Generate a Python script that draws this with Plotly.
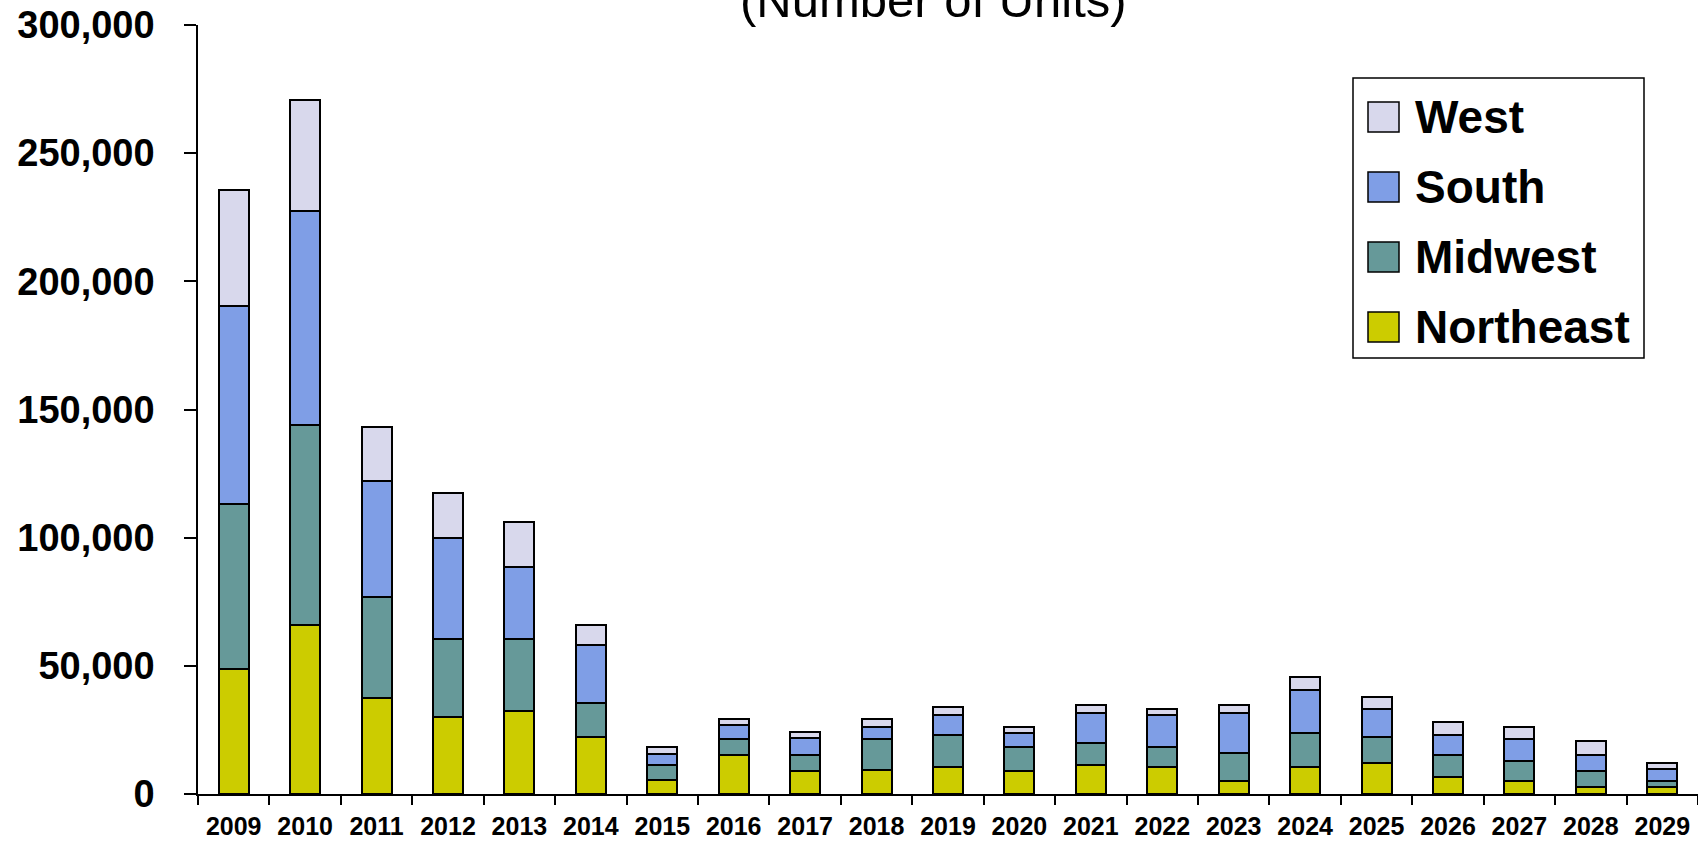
import plotly.graph_objects as go

# Units by region and year
years = [str(y) for y in range(2009, 2030)]
northeast = [48600, 65900, 37600, 30000, 32500, 22400, 5600, 15100, 8900, 9500, 10500,
             8900, 11300, 10700, 5100, 10700, 12000, 6600, 5100, 2600, 2600]
midwest = [64600, 78200, 39300, 30400, 27900, 13100, 5700, 6400, 6200, 12000, 12400,
           9600, 8600, 7800, 10900, 13100, 10300, 8600, 7800, 6400, 2500]
south = [77300, 83200, 45200, 39300, 28300, 22800, 4500, 5300, 6600, 4500, 8000,
         5300, 11600, 12500, 15500, 16600, 10900, 7800, 8700, 6200, 4500]
west = [45300, 43500, 21100, 17800, 17300, 7600, 2600, 2600, 2300, 3400, 3200,
        2500, 3300, 2300, 3300, 5400, 4700, 4900, 4700, 5600, 2600]

y_ticks = [0, 50000, 100000, 150000, 200000, 250000, 300000]
y_tick_text = ["0", "50,000", "100,000", "150,000", "200,000", "250,000", "300,000"]

series = [
    ("Northeast", northeast, "#CCCC00"),
    ("Midwest", midwest, "#669999"),
    ("South", south, "#7F9EE6"),
    ("West", west, "#D8D8EC"),
]

W, H = 1698, 843
M_L, M_R, M_T, M_B = 198, 0, 25, 49
PW, PH = W - M_L - M_R, H - M_T - M_B


def px_x(x):
    return (x - M_L) / PW


def px_y(y):
    return (H - M_B - y) / PH


FONT = "Liberation Sans, Arial, sans-serif"

fig = go.Figure()
for name, vals, color in series:
    fig.add_trace(go.Bar(
        x=years, y=vals, name=name,
        marker=dict(color=color, line=dict(color="black", width=2)),
        showlegend=False,
    ))

fig.update_layout(
    width=W, height=H,
    margin=dict(l=M_L, r=M_R, t=M_T, b=M_B, pad=0),
    barmode="stack", bargap=0.58,
    plot_bgcolor="white", paper_bgcolor="white",
    font=dict(family=FONT, color="black"),
)

fig.update_xaxes(
    type="category", range=[-0.5, 20.5], automargin=False,
    showline=True, linecolor="black", linewidth=1.5,
    ticks="outside", tickson="boundaries", ticklen=9, tickwidth=1.5, tickcolor="black",
    tickfont=dict(family=FONT, size=25, color="black", weight="bold"),
    ticklabelstandoff=9,
    showgrid=False, zeroline=False,
)
fig.update_yaxes(
    range=[0, 300000], automargin=False,
    tickvals=y_ticks, ticktext=y_tick_text,
    showline=True, linecolor="black", linewidth=1.5,
    ticks="outside", ticklen=12, tickwidth=1.5, tickcolor="black",
    tickfont=dict(family=FONT, size=38, color="black", weight="bold"),
    ticklabelstandoff=22,
    showgrid=False, zeroline=False,
)

# Title line at the top of the figure
fig.add_annotation(
    text="(Number of Units)", xref="paper", yref="paper",
    x=px_x(933), y=1, xanchor="center", yanchor="bottom", yshift=-4,
    showarrow=False, font=dict(family=FONT, size=49, color="black"),
)

# Legend: framed box with square swatches, West on top
box = dict(x0=1353, x1=1644, y0=78, y1=358)
fig.add_shape(type="rect", xref="paper", yref="paper",
              x0=px_x(box["x0"]), x1=px_x(box["x1"]),
              y0=px_y(box["y1"]), y1=px_y(box["y0"]),
              line=dict(color="black", width=1.5), fillcolor="white", layer="above")
legend_order = list(reversed(series))
for i, (name, _, color) in enumerate(legend_order):
    cy = 117 + 70 * i
    fig.add_shape(type="rect", xref="paper", yref="paper",
                  x0=px_x(1368), x1=px_x(1399),
                  y0=px_y(cy + 15), y1=px_y(cy - 15),
                  line=dict(color="black", width=1.5), fillcolor=color, layer="above")
    fig.add_annotation(
        text=name, xref="paper", yref="paper",
        x=px_x(1413), y=px_y(cy), xanchor="left", yanchor="middle",
        showarrow=False, font=dict(family=FONT, size=46, color="black", weight="bold"),
    )

fig.write_html("out.html")
